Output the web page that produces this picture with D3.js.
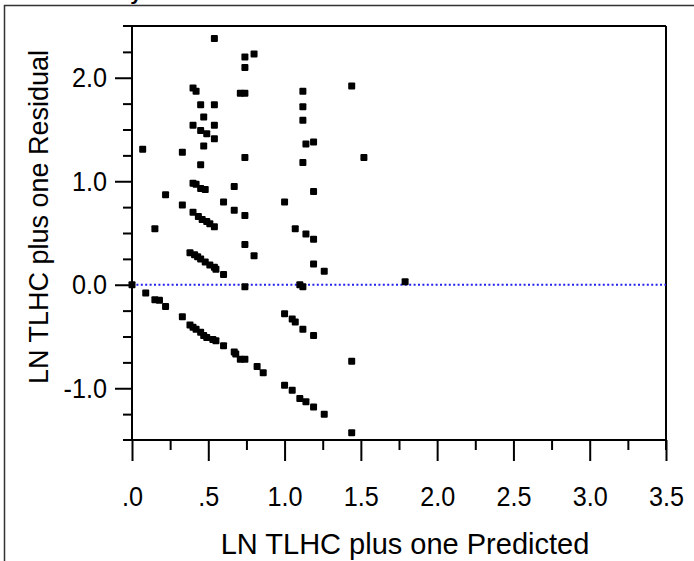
<!DOCTYPE html>
<html>
<head>
<meta charset="utf-8">
<script src="https://cdn.jsdelivr.net/npm/d3@7"></script>
<style>
  body { margin: 0; background: #fff; }
  text { font-family: "Liberation Sans", Arial, sans-serif; fill: #000; }
</style>
</head>
<body>
<div id="chart"></div>
<script>
// values
const predicted = [
  0.00, 0.07, 0.09, 0.15, 0.15, 0.18, 0.22, 0.22,
  0.33, 0.33, 0.33,
  0.40, 0.42, 0.45, 0.54, 0.47, 0.40, 0.54, 0.45, 0.49, 0.54, 0.47, 0.45, 0.54,
  0.40, 0.42, 0.45, 0.48,
  0.40, 0.435, 0.46, 0.49, 0.51, 0.54,
  0.38, 0.41, 0.43, 0.45, 0.48, 0.51, 0.54, 0.55, 0.60,
  0.38, 0.40, 0.42, 0.45, 0.47, 0.49, 0.53, 0.55, 0.60,
  0.60, 0.67, 0.67, 0.74, 0.74, 0.80,
  0.67, 0.68, 0.71, 0.74, 0.82, 0.86,
  0.74, 0.80, 0.74, 0.71, 0.74, 0.74, 0.74,
  1.12, 1.12, 1.12, 1.14, 1.19, 1.12, 1.19, 1.00, 1.07, 1.14, 1.19, 1.19, 1.26,
  1.10, 1.12, 1.00, 1.05, 1.07, 1.12, 1.19, 1.00, 1.05, 1.10, 1.14, 1.19, 1.26,
  1.44, 1.44, 1.44, 1.52, 1.79
];
const residual = [
  0.00, 1.31, -0.08, 0.54, -0.145, -0.15, 0.87, -0.21,
  1.28, 0.77, -0.31,
  1.90, 1.87, 1.74, 1.74, 1.62, 1.54, 1.54, 1.49, 1.46, 1.41, 1.34, 1.16, 2.38,
  0.98, 0.97, 0.93, 0.92,
  0.70, 0.66, 0.63, 0.61, 0.59, 0.56,
  0.31, 0.29, 0.27, 0.25, 0.22, 0.19, 0.17, 0.15, 0.10,
  -0.39, -0.41, -0.43, -0.46, -0.49, -0.51, -0.53, -0.54, -0.59,
  0.80, 0.95, 0.72, 0.67, 0.39, 0.28,
  -0.65, -0.67, -0.72, -0.72, -0.79, -0.85,
  2.20, 2.23, 2.10, 1.85, 1.85, 1.23, -0.02,
  1.87, 1.72, 1.59, 1.36, 1.38, 1.18, 0.90, 0.80, 0.54, 0.49, 0.44, 0.20, 0.13,
  0.00, -0.02, -0.28, -0.33, -0.36, -0.43, -0.49, -0.97, -1.02, -1.10, -1.13, -1.18, -1.25,
  1.92, -0.74, -1.43, 1.23, 0.03
];

const xTickValues = [0, 0.5, 1, 1.5, 2, 2.5, 3, 3.5];
const xTickLabels = [".0", ".5", "1.0", "1.5", "2.0", "2.5", "3.0", "3.5"];
const yTickValues = [-1, 0, 1, 2];
const yTickLabels = ["-1.0", "0.0", "1.0", "2.0"];

const title = "Residual by Predicted Plot";
const xTitle = "LN TLHC plus one Predicted";
const yTitle = "LN TLHC plus one Residual";

class ResidualPlot {
    constructor(_config, _x, _y) {
        this.config = {
            parentElement: _config.parentElement,
            containerWidth: 694,
            containerHeight: 561,
            margin: {top: 26, right: 28, bottom: 121, left: 132},
            markerSize: 7,
            tickFont: 28,
            tickSqueeze: 0.9 // tick numbers look a bit condensed in the original
        };
        this.xData = _x;
        this.yData = _y;
        this.initVis();
    }

    initVis() {
        let vis = this;
        const sq = vis.config.tickSqueeze;

        vis.width = vis.config.containerWidth - vis.config.margin.left - vis.config.margin.right;
        vis.height = vis.config.containerHeight - vis.config.margin.top - vis.config.margin.bottom;

        vis.root = d3.select(vis.config.parentElement)
            .append('svg')
            .attr('width', vis.config.containerWidth)
            .attr('height', vis.config.containerHeight);

        // outer report frame (runs off the page on the right and bottom)
        vis.root.append('rect')
            .attr('x', 4.5).attr('y', 5.5)
            .attr('width', 720).attr('height', 600)
            .attr('fill', 'none')
            .attr('stroke', '#333')
            .attr('stroke-width', 1.5);

        // title, mostly cut off at the top
        vis.root.append('text')
            .attr('x', 24).attr('y', -0.5)
            .attr('font-size', 21)
            .attr('font-weight', 'bold')
            .text(title);

        vis.svg = vis.root.append('g')
            .attr('transform', `translate(${vis.config.margin.left},${vis.config.margin.top})`);

        vis.x = d3.scaleLinear().domain([0, 3.5]).range([0, vis.width]);
        vis.y = d3.scaleLinear().domain([-1.5, 2.5]).range([vis.height, 0]);

        // minor ticks
        const xMinor = d3.range(0.25, 3.5, 0.5);
        const yMinor = d3.range(-1.25, 2.5, 0.25).filter(d => Math.abs(d - Math.round(d)) > 0.01);

        vis.svg.append('g')
            .attr('transform', `translate(0,${vis.height})`)
            .call(d3.axisBottom(vis.x).tickValues(xMinor).tickSize(10).tickFormat(''))
            .call(g => g.select('.domain').remove());

        vis.svg.append('g')
            .call(d3.axisLeft(vis.y).tickValues(yMinor).tickSize(9).tickFormat(''))
            .call(g => g.select('.domain').remove());

        // major ticks + labels
        vis.svg.append('g')
            .attr('class', 'x-axis')
            .attr('transform', `translate(0,${vis.height})`)
            .call(d3.axisBottom(vis.x).tickValues(xTickValues).tickSize(21).tickPadding(25)
                .tickFormat((d, i) => xTickLabels[i]))
            .call(g => g.select('.domain').remove())
            .call(g => g.selectAll('text')
                .attr('font-size', vis.config.tickFont)
                .attr('font-family', null)
                .attr('transform', `scale(${sq},1)`));

        vis.svg.append('g')
            .attr('class', 'y-axis')
            .call(d3.axisLeft(vis.y).tickValues(yTickValues).tickSize(17).tickPadding(8)
                .tickFormat((d, i) => yTickLabels[i]))
            .call(g => g.select('.domain').remove())
            .call(g => g.selectAll('text')
                .attr('font-size', vis.config.tickFont)
                .attr('font-family', null)
                .attr('x', -25 / sq)
                .attr('transform', `scale(${sq},1)`));

        vis.svg.selectAll('.tick line').attr('stroke', '#000').attr('stroke-width', 2);

        // frame: axis lines overhang a little like the original
        const frame = [
            [[-9, 0], [vis.width, 0]],
            [[vis.width, 0], [vis.width, vis.height + 10]],
            [[0, 0], [0, vis.height]],
            [[-9, vis.height], [vis.width, vis.height]]
        ];
        vis.svg.selectAll('.frame')
            .data(frame)
            .enter()
            .append('line')
            .attr('class', 'frame')
            .attr('x1', d => d[0][0]).attr('y1', d => d[0][1])
            .attr('x2', d => d[1][0]).attr('y2', d => d[1][1])
            .attr('stroke', '#000')
            .attr('stroke-width', 2);

        // zero reference line
        vis.svg.append('line')
            .attr('x1', 0).attr('x2', vis.width)
            .attr('y1', vis.y(0)).attr('y2', vis.y(0))
            .attr('stroke', '#2222ee')
            .attr('stroke-width', 2)
            .attr('stroke-dasharray', '2,2.4');

        // points
        const pts = vis.xData.map((d, i) => ({x: d, y: vis.yData[i]}));
        const s = vis.config.markerSize;
        vis.svg.selectAll('.pt')
            .data(pts)
            .enter()
            .append('rect')
            .attr('class', 'pt')
            .attr('x', d => vis.x(d.x) - s / 2)
            .attr('y', d => vis.y(d.y) - s / 2)
            .attr('width', s)
            .attr('height', s)
            .attr('rx', 1)
            .attr('fill', '#000');

        // axis titles
        vis.root.append('text')
            .attr('x', 405)
            .attr('y', 554)
            .attr('text-anchor', 'middle')
            .attr('font-size', 29)
            .text(xTitle);

        vis.root.append('text')
            .attr('transform', `translate(48,217) rotate(-90)`)
            .attr('text-anchor', 'middle')
            .attr('font-size', 27)
            .text(yTitle);
    }
}

new ResidualPlot({parentElement: '#chart'}, predicted, residual);
</script>
</body>
</html>
